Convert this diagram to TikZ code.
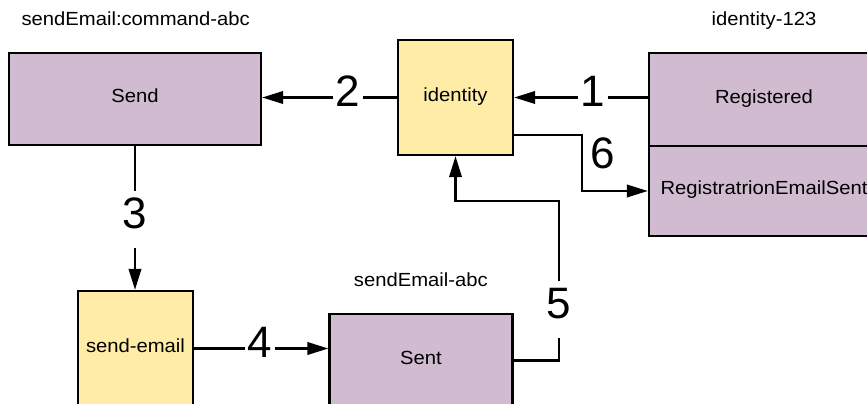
\documentclass[tikz,border=0pt]{standalone}
\usepackage{fontspec}
\setmainfont{Liberation Sans}[FakeStretch=1.065]
\newfontfamily\numfont{Liberation Sans}
\usetikzlibrary{arrows.meta}
\definecolor{evtpurple}{RGB}{209,187,208}
\definecolor{cmdyellow}{RGB}{255,236,166}
\begin{document}
\begin{tikzpicture}[x=1pt,y=-1pt,
  box/.style={draw=black, line width=2.4pt, inner sep=0pt,
    font=\fontsize{19}{23}\selectfont, text height=13.6pt, text depth=6pt},
  evt/.style={box, fill=evtpurple},
  cmd/.style={box, fill=cmdyellow},
  conn/.style={line width=2.2pt, -{Triangle[length=21pt,width=12.5pt]}},
  stepnum/.style={font=\numfont\fontsize{44}{50}\selectfont, inner xsep=3pt,
    inner ysep=6pt, text height=31.5pt, text depth=13.5pt},
  gap/.style={stepnum, fill=white},
  caption/.style={font=\fontsize{19}{23}\selectfont, anchor=base, inner sep=0pt}]
\clip (0,0) rectangle (867,404);
\fill[white] (0,0) rectangle (867,404);

% aggregates and their events / commands
\node[evt, minimum width=252pt, minimum height=92pt] (send) at (135,99) {Send};
\node[cmd, minimum width=115pt, minimum height=115pt] (id) at (455.5,97.5) {identity};
\node[evt, minimum width=230pt, minimum height=93pt] (reg) at (764,99.5) {Registered};
\node[evt, minimum width=230pt, minimum height=90pt] (res) at (764,191) {RegistratrionEmailSent};
\node[cmd, minimum width=115pt, minimum height=115pt] (se) at (135.5,348.5) {send-email};
\node[evt, minimum width=183pt, minimum height=93pt] (sent) at (421,360.5) {Sent};

% stream captions
\node[caption] (capsend) at (135.7,26) {sendEmail:command-abc};
\node[caption] (capid) at (764,26) {identity-123};
\node[caption] (capsent) at (420.8,286) {sendEmail-abc};

% flow
\coordinate (k5) at (559,201);
\draw[conn] (id.east -| reg.west) -- (id.east);
\draw[conn] (id.west) -- (id.west -| send.east);
\draw[conn] (send.south) -- (send.south |- se.north);
\draw[conn] (se.east) -- (se.east -| sent.west);
\draw[conn] (sent.east) -| (k5) -| (id.south);
\draw[conn] ([yshift=-37.5pt]id.east) -- ++(68,0) |- (res.west);

% step numbers
\node[gap] (n1) at (593,97) {1};
\node[gap] (n2) at (348,97.5) {2};
\node[gap] (n3) at (135,219) {3};
\node[gap] (n4) at (260,348.4) {4};
\node[gap] (n5) at (559,309) {5};
\node[stepnum] (n6) at (602.5,159) {6};
\end{tikzpicture}
\end{document}
